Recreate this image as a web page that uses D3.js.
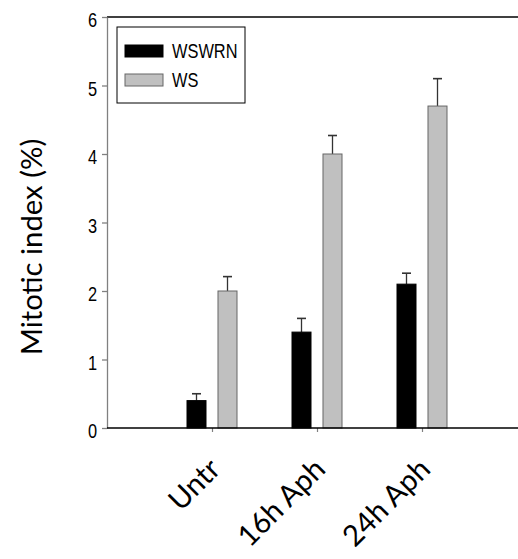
<!DOCTYPE html>
<html><head><meta charset="utf-8">
<script src="https://cdn.jsdelivr.net/npm/d3@7"></script>
<style>body{margin:0;background:#fff} svg{display:block}</style>
</head><body>
<svg id="chart" width="518" height="559"></svg>
<script>
// ---- data ----
const categories = ["Untr", "16h Aph", "24h Aph"];
const seriesNames = ["WSWRN", "WS"];
const wswrnValues = [0.4, 1.4, 2.1];
const wswrnErrors = [0.1, 0.2, 0.16];
const wsValues = [2.0, 4.0, 4.7];
const wsErrors = [0.21, 0.27, 0.4];
const yTicks = [0, 1, 2, 3, 4, 5, 6];
const yLabel = "Mitotic index (%)";

// ---- layout ----
const plot = {left: 107, right: 518, top: 17, bottom: 428};
const seriesFill = ["#000000", "#c0c0c0"];
const seriesStroke = ["#000000", "#666666"];
const arial = "'Liberation Sans', Arial, sans-serif";
const narrowScale = 0.82;
const humanist = "Lato, 'Open Sans', sans-serif";

const svg = d3.select("#chart");

const y = d3.scaleLinear().domain([0, 6]).range([plot.bottom, plot.top]);
const x = d3.scalePoint().domain(categories).range([212, 422]);
const xs = d3.scaleBand().domain(seriesNames).range([-25, 25]).paddingInner(0.387);

const table = categories.map((c, i) => ({
  cat: c,
  vals: [
    {s: seriesNames[0], v: wswrnValues[i], e: wswrnErrors[i], k: 0},
    {s: seriesNames[1], v: wsValues[i], e: wsErrors[i], k: 1}
  ]
}));

// top frame line
svg.append("line")
  .attr("x1", plot.left).attr("x2", plot.right)
  .attr("y1", y(6)).attr("y2", y(6))
  .attr("stroke", "#000").attr("stroke-width", 1.3);

// y axis
const yAxis = svg.append("g")
  .attr("transform", `translate(${plot.left},0)`)
  .call(d3.axisLeft(y).tickValues(yTicks).tickFormat(d3.format("d")).tickSize(5).tickSizeOuter(0).tickPadding(4));
yAxis.select(".domain").attr("stroke", "#808080").attr("stroke-width", 1.3);
yAxis.selectAll(".tick line").attr("stroke", "#808080").attr("stroke-width", 1.3);
yAxis.selectAll(".tick text")
  .attr("font-family", arial).attr("font-size", 20).attr("fill", "#000")
  .attr("x", -10 / narrowScale)
  .attr("transform", `scale(${narrowScale},1)`)
  .attr("dy", "0.48em");

// bars
const groups = svg.append("g").selectAll("g").data(table).join("g")
  .attr("transform", d => `translate(${x(d.cat)},0)`);

groups.selectAll("line.err").data(d => d.vals).join("line")
  .attr("class", "err")
  .attr("x1", d => xs(d.s) + xs.bandwidth() / 2)
  .attr("x2", d => xs(d.s) + xs.bandwidth() / 2)
  .attr("y1", d => y(d.v)).attr("y2", d => y(d.v + d.e))
  .attr("stroke", "#333").attr("stroke-width", 1.3);
groups.selectAll("line.cap").data(d => d.vals).join("line")
  .attr("class", "cap")
  .attr("x1", d => xs(d.s) + xs.bandwidth() / 2 - 4.5)
  .attr("x2", d => xs(d.s) + xs.bandwidth() / 2 + 4.5)
  .attr("y1", d => y(d.v + d.e)).attr("y2", d => y(d.v + d.e))
  .attr("stroke", "#333").attr("stroke-width", 1.6);

groups.selectAll("rect").data(d => d.vals).join("rect")
  .attr("x", d => xs(d.s))
  .attr("width", xs.bandwidth())
  .attr("y", d => y(d.v))
  .attr("height", d => y(0) - y(d.v))
  .attr("fill", d => seriesFill[d.k])
  .attr("stroke", d => seriesStroke[d.k])
  .attr("stroke-width", 1);

// x axis
const xAxis = svg.append("g")
  .attr("transform", `translate(0,${plot.bottom})`)
  .call(d3.axisBottom(x).tickSize(4).tickSizeOuter(0).tickFormat(""));
xAxis.select(".domain").remove();
xAxis.selectAll(".tick line").attr("stroke", "#808080").attr("stroke-width", 1.2);
svg.append("line")
  .attr("x1", plot.left).attr("x2", plot.right)
  .attr("y1", plot.bottom).attr("y2", plot.bottom)
  .attr("stroke", "#000").attr("stroke-width", 1.3);

// fit humanist font size to title length
const probe = svg.append("text").attr("font-family", humanist).attr("font-size", 100).text(yLabel);
const bigSize = Math.round(100 * 217 / probe.node().getComputedTextLength() * 10) / 10;
probe.remove();

svg.append("text")
  .attr("x", 42).attr("y", (138 + 356) / 2)
  .attr("transform", `rotate(-90 42 ${(138 + 356) / 2})`)
  .attr("text-anchor", "middle")
  .attr("font-family", humanist).attr("font-size", bigSize)
  .attr("fill", "#000")
  .text(yLabel);

const labelY = 471;
svg.append("g").selectAll("text").data(categories).join("text")
  .attr("x", d => x(d) + 10)
  .attr("y", labelY)
  .attr("transform", d => `rotate(-45 ${x(d) + 10} ${labelY})`)
  .attr("text-anchor", "end")
  .attr("font-family", humanist).attr("font-size", bigSize)
  .attr("fill", "#000")
  .text(d => d);

// legend
const lg = svg.append("g");
lg.append("rect").attr("x", 117).attr("y", 27).attr("width", 128).attr("height", 76)
  .attr("fill", "#fff").attr("stroke", "#000").attr("stroke-width", 1);
const rows = lg.selectAll("g").data(seriesNames).join("g")
  .attr("transform", (d, i) => `translate(0,${45 + i * 29})`);
rows.append("rect").attr("x", 125).attr("y", 0).attr("width", 38).attr("height", 12)
  .attr("fill", (d, i) => seriesFill[i]).attr("stroke", (d, i) => seriesStroke[i]).attr("stroke-width", 1);
rows.append("text")
  .attr("transform", `translate(172,13) scale(${narrowScale},1)`)
  .attr("font-family", arial).attr("font-size", 20).attr("fill", "#000")
  .text(d => d);
</script>
</body></html>
